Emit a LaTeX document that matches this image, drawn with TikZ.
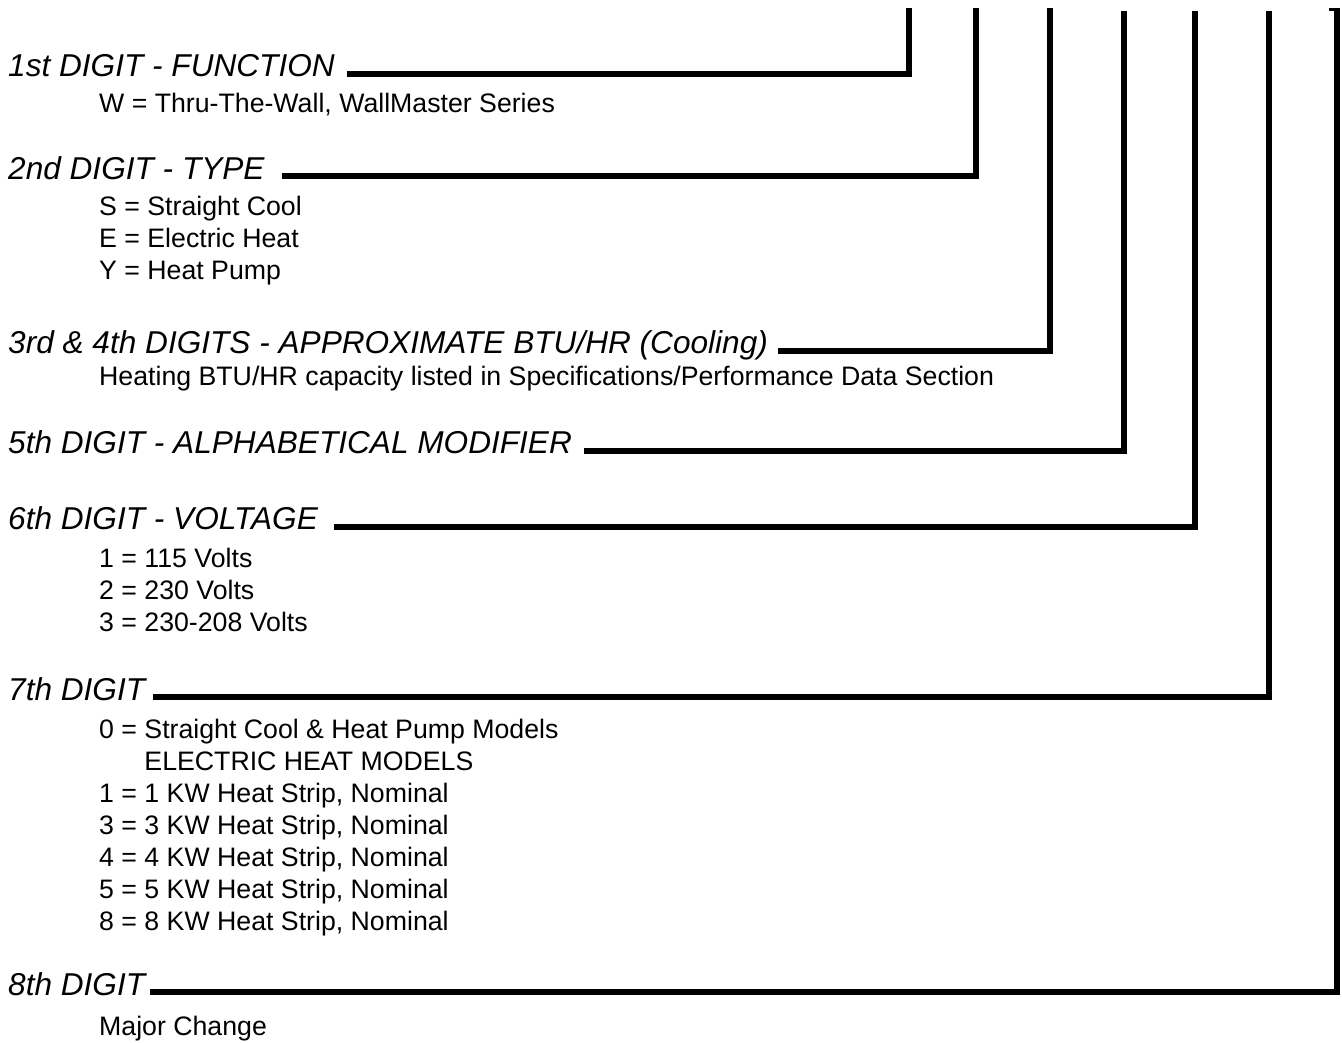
\documentclass[tikz,border=0pt]{standalone}
\usepackage{fontspec}
\setmainfont{Liberation Sans}
\tikzset{
  head/.style={anchor=base west, inner sep=0pt, font=\fontsize{31.6}{36}\selectfont\itshape},
  entry/.style={anchor=base west, inner sep=0pt, font=\fontsize{26.7}{32}\selectfont},
  lead/.style={line width=6pt, line join=miter},
}
\begin{document}
\begin{tikzpicture}[x=1pt,y=-1pt]
\useasboundingbox (0,0) rectangle (1342,1042);
% tops of the leader lines
\coordinate (t1) at (909,8);
\coordinate (t2) at (975.5,8);
\coordinate (t3) at (1050,8);
\coordinate (t5) at (1123.5,11);
\coordinate (t6) at (1195,11);
\coordinate (t7) at (1269,11);
\coordinate (t8) at (1337,8);

% headings
\node[head] (h1) at (8,76.5) {1st DIGIT - FUNCTION};
\node[head] (h2) at (8,179) {2nd DIGIT - TYPE};
\node[head] (h3) at (8,353.5) {3rd \& 4th DIGITS - APPROXIMATE BTU/HR (Cooling)};
\node[head] (h5) at (8,453.5) {5th DIGIT - ALPHABETICAL MODIFIER};
\node[head] (h6) at (8,529.5) {6th DIGIT - VOLTAGE};
\node[head] (h7) at (8,700) {7th DIGIT};
\node[head] (h8) at (8,995) {8th DIGIT};

% entries
\node[entry] (w)  at (99,112) {W = Thru-The-Wall, WallMaster Series};
\node[entry] (s)  at (99,215) {S = Straight Cool};
\node[entry] (e)  at (99,247) {E = Electric Heat};
\node[entry] (y)  at (99,279) {Y = Heat Pump};
\node[entry] (ht) at (99,385) {Heating BTU/HR capacity listed in Specifications/Performance Data Section};
\node[entry] (v1) at (99,567) {1 = 115 Volts};
\node[entry] (v2) at (99,599) {2 = 230 Volts};
\node[entry] (v3) at (99,631) {3 = 230-208 Volts};
\node[entry] (k0) at (99,738) {0 = Straight Cool \& Heat Pump Models};
\node[entry] (ke) at (99,770) {\phantom{0 = }ELECTRIC HEAT MODELS};
\node[entry] (k1) at (99,802) {1 = 1 KW Heat Strip, Nominal};
\node[entry] (k3) at (99,834) {3 = 3 KW Heat Strip, Nominal};
\node[entry] (k4) at (99,866) {4 = 4 KW Heat Strip, Nominal};
\node[entry] (k5) at (99,898) {5 = 5 KW Heat Strip, Nominal};
\node[entry] (k8) at (99,930) {8 = 8 KW Heat Strip, Nominal};
\node[entry] (mc) at (99,1035) {Major Change};

% leader lines
\draw[lead] ([xshift=12pt,yshift=3pt]h1.base east) -| (t1);
\draw[lead] ([xshift=17pt,yshift=3pt]h2.base east) -| (t2);
\draw[lead] ([xshift=10pt,yshift=3pt]h3.base east) -| (t3);
\draw[lead] ([xshift=12pt,yshift=3pt]h5.base east) -| (t5);
\draw[lead] ([xshift=16pt,yshift=3pt]h6.base east) -| (t6);
\draw[lead] ([xshift=8pt,yshift=3pt]h7.base east) -| (t7);
\draw[lead] ([xshift=5pt,yshift=3pt]h8.base east) -| (t8);
\draw[line width=3pt] ([xshift=-8pt,yshift=-1.5pt]t8) -- ([xshift=3pt,yshift=-1.5pt]t8);
\end{tikzpicture}
\end{document}
